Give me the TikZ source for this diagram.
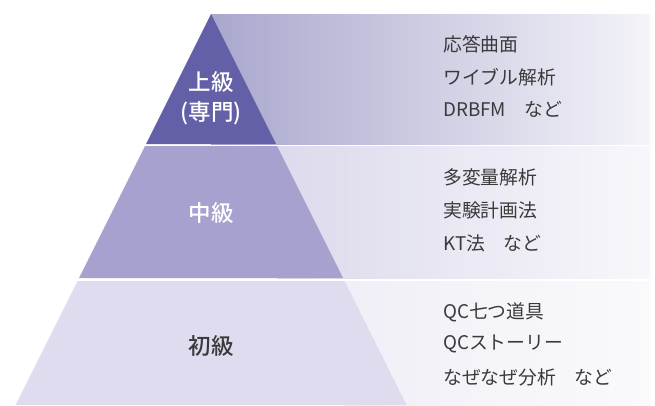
\documentclass[tikz,border=0pt]{standalone}
\usepackage{fontspec}
\newfontfamily\jp{Noto Sans CJK JP}
\newfontfamily\jpm{Noto Sans CJK JP Medium}
\definecolor{cTop}{HTML}{6460A8}
\definecolor{cMid}{HTML}{A7A1CF}
\definecolor{cBot}{HTML}{DEDCEE}
\definecolor{pAL}{HTML}{A9A7CD}
\definecolor{pAR}{HTML}{F4F4F9}
\definecolor{pBL}{HTML}{DCDAEC}
\definecolor{pBR}{HTML}{F7F7FB}
\definecolor{pCL}{HTML}{F0EFF7}
\definecolor{pCR}{HTML}{FAFAFC}
\definecolor{txt}{HTML}{3A3A3A}
\tikzset{
  lab/.style={font=\jpm\fontsize{22.5}{26}\selectfont, inner sep=0pt},
  item/.style={font=\jp\fontsize{18.8}{22}\selectfont, text=txt, anchor=west, inner sep=0pt}
}
\begin{document}
\begin{tikzpicture}[x=1pt,y=-1pt]
\useasboundingbox (0,0) rectangle (655,405);
% side panels
\shade[left color=pAL, right color=pAR] (211,14) rectangle (650,144);
\shade[left color=pBL, right color=pBR] (277,146) rectangle (650,278);
\shade[left color=pCL, right color=pCR] (344,281) rectangle (650,405);
% pyramid
\fill[cTop] (211,14) -- (276,144) -- (146,144) -- cycle;
\fill[cMid] (145,146) -- (277,146) -- (343,278) -- (79,278) -- cycle;
\fill[cBot] (77.5,281) -- (344.5,281) -- (406.5,405) -- (15.5,405) -- cycle;
% labels
\node[lab, text=white] (l1) at (211,82) {上級};
\node[lab, text=white] (l1b) at (211,113) {(専門)};
\node[lab, text=white] (l2) at (211,213) {中級};
\node[lab, text=txt] (l3) at (211,346) {初級};
% items
\node[item] (a1) at (443,44) {応答曲面};
\node[item] (a2) at (443,77) {ワイブル解析};
\node[item] (a3) at (443,109) {DRBFM　など};
\node[item] (b1) at (443,177) {多変量解析};
\node[item] (b2) at (443,210) {実験計画法};
\node[item] (b3) at (443,243) {KT法　など};
\node[item] (c1) at (443,312) {QC七つ道具};
\node[item] (c2) at (443,344) {QCストーリー};
\node[item] (c3) at (443,377) {なぜなぜ分析　など};
\end{tikzpicture}
\end{document}
